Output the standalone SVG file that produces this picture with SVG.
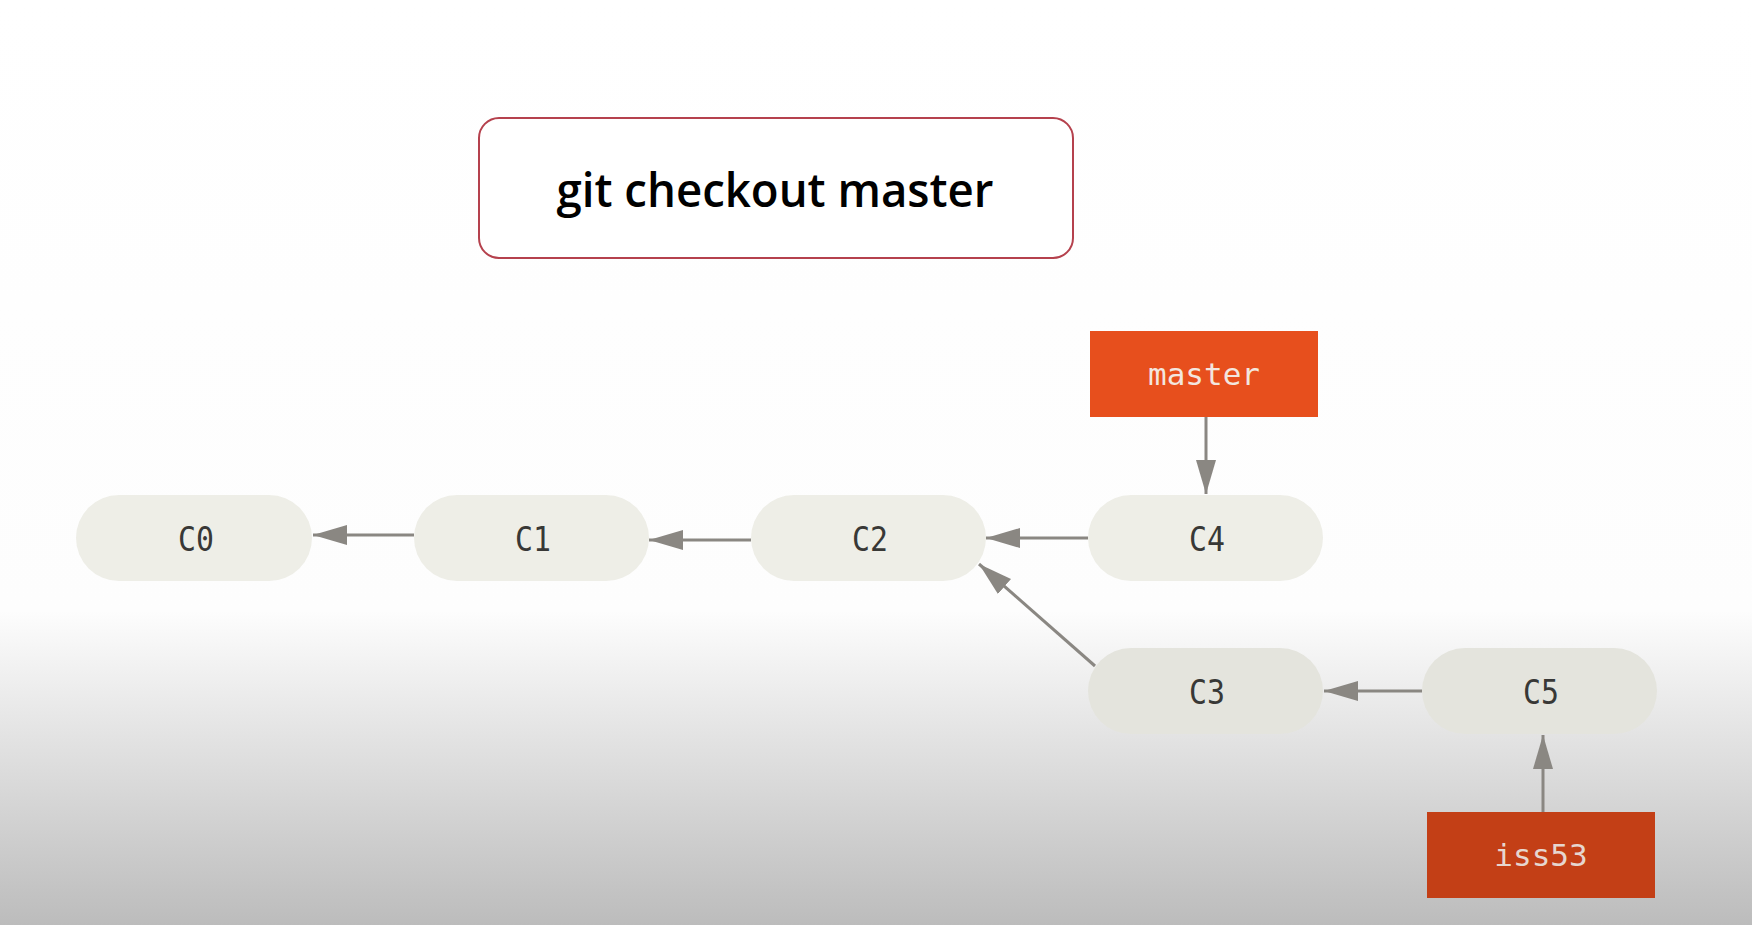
<svg xmlns="http://www.w3.org/2000/svg" width="1752" height="925" viewBox="0 0 1752 925">
<defs>
<linearGradient id="bg" x1="0" y1="0" x2="0" y2="925" gradientUnits="userSpaceOnUse">
<stop offset="0" stop-color="#ffffff"/>
<stop offset="0.66" stop-color="#fdfdfd"/>
<stop offset="1" stop-color="#bcbcbc"/>
</linearGradient>
<marker id="ah" viewBox="0 0 34 20" refX="34" refY="10" markerWidth="34" markerHeight="20" markerUnits="userSpaceOnUse" orient="auto">
<path d="M0,0 L34,10 L0,20 z" fill="#8a8782"/>
</marker>
<style>
.commit{fill:#eeeee7}
.commit.low{fill:#e4e4dd}
.clabel{font-family:"DejaVu Sans Mono","Liberation Mono",monospace;font-size:33px;fill:#383836;text-anchor:middle}
.branch-label{font-family:"DejaVu Sans Mono","Liberation Mono",monospace;font-size:31px;fill:#f3e6df;text-anchor:middle}
.edge{stroke:#8a8782;stroke-width:3;fill:none;marker-end:url(#ah)}
</style>
</defs>
<rect x="0" y="0" width="1752" height="925" fill="url(#bg)"/>

<g id="title">
<rect x="479" y="118" width="594" height="140" rx="20" ry="20" fill="#ffffff" stroke="#b5414d" stroke-width="2"/>
<text x="775" y="207" font-family="'Open Sans','Liberation Sans',sans-serif" font-size="47" font-weight="600" fill="#000000" text-anchor="middle" textLength="437" lengthAdjust="spacingAndGlyphs">git checkout master</text>
</g>

<g id="connectors">
<line class="edge" x1="414" y1="535" x2="313" y2="535"/>
<line class="edge" x1="751" y1="540" x2="649" y2="540"/>
<line class="edge" x1="1088" y1="538" x2="986" y2="538"/>
<line class="edge" x1="1095" y1="666" x2="979" y2="564"/>
<line class="edge" x1="1422" y1="691" x2="1324" y2="691"/>
<line class="edge" x1="1206" y1="417" x2="1206" y2="494"/>
<line class="edge" x1="1543" y1="812" x2="1543" y2="735"/>
</g>

<g id="C0"><rect class="commit" x="76" y="495" width="236" height="86" rx="43"/><text class="clabel" x="196" y="551" textLength="36" lengthAdjust="spacingAndGlyphs">C0</text></g>
<g id="C1"><rect class="commit" x="414" y="495" width="235" height="86" rx="43"/><text class="clabel" x="533" y="551" textLength="36" lengthAdjust="spacingAndGlyphs">C1</text></g>
<g id="C2"><rect class="commit" x="751" y="495" width="235" height="86" rx="43"/><text class="clabel" x="870" y="551" textLength="36" lengthAdjust="spacingAndGlyphs">C2</text></g>
<g id="C4"><rect class="commit" x="1088" y="495" width="235" height="86" rx="43"/><text class="clabel" x="1207" y="551" textLength="36" lengthAdjust="spacingAndGlyphs">C4</text></g>
<g id="C3"><rect class="commit low" x="1088" y="648" width="235" height="86" rx="43"/><text class="clabel" x="1207" y="704" textLength="36" lengthAdjust="spacingAndGlyphs">C3</text></g>
<g id="C5"><rect class="commit low" x="1422" y="648" width="235" height="86" rx="43"/><text class="clabel" x="1541" y="704" textLength="36" lengthAdjust="spacingAndGlyphs">C5</text></g>

<g id="master"><rect x="1090" y="331" width="228" height="86" fill="#e74f1d"/><text class="branch-label" x="1204" y="385">master</text></g>
<g id="iss53"><rect x="1427" y="812" width="228" height="86" fill="#c33f16"/><text class="branch-label" x="1541" y="866" style="fill:#e6d6cf">iss53</text></g>
</svg>
